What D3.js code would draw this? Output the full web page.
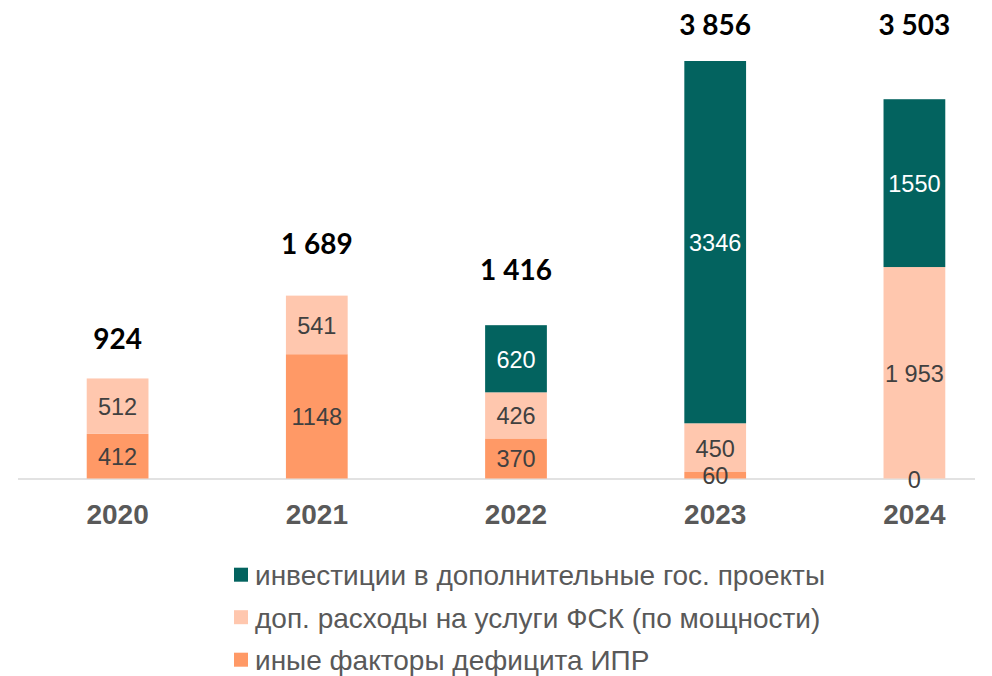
<!DOCTYPE html>
<html><head><meta charset="utf-8">
<script src="https://cdn.jsdelivr.net/npm/d3@7"></script>
<style>body{margin:0;background:#fff}svg{display:block}</style>
</head><body>
<svg id="c" width="992" height="676"></svg>
<script>
const years = ["2020","2021","2022","2023","2024"];
const seriesNames = ["иные факторы дефицита ИПР","доп. расходы на услуги ФСК (по мощности)","инвестиции в дополнительные гос. проекты"];
const otherFactors = [412, 1148, 370, 60, 0];
const fskCosts = [512, 541, 426, 450, 1953];
const govProjects = [0, 0, 620, 3346, 1550];
const totals = [924, 1689, 1416, 3856, 3503];
const totalLabels = ["924","1 689","1 416","3 856","3 503"];
const otherLabels = ["412","1148","370","60","0"];
const fskLabels = ["512","541","426","450","1 953"];
const govLabels = ["","","620","3346","1550"];

// layout (not data)
const colors = ["#FF9966","#FFC7AE","#03635F"];
const labelColors = ["#404040","#404040","#ffffff"];
const totalLabelOffset = [29, 42, 45, 26, 64];

const svg = d3.select("#c");
const x = d3.scaleBand().domain(years).range([18, 1014]).paddingInner(0.69).paddingOuter(0.345);
const y = d3.scaleLinear().domain([0, d3.max(totals)]).range([478.5, 61]);

const rows = years.map((yr,i)=>({year:yr, s0:otherFactors[i], s1:fskCosts[i], s2:govProjects[i]}));
const stack = d3.stack().keys(["s0","s1","s2"])(rows);
const segLabels = [otherLabels, fskLabels, govLabels];

// axis line
svg.append("line").attr("x1",18).attr("x2",975).attr("y1",479).attr("y2",479)
  .attr("stroke","#d9d9d9").attr("stroke-width",1.5);

stack.forEach((layer,k)=>{
  svg.append("g").selectAll("rect").data(layer).join("rect")
    .attr("x",d=>x(d.data.year)).attr("width",x.bandwidth())
    .attr("y",d=>y(d[1])).attr("height",d=>Math.max(0,y(d[0])-y(d[1])))
    .attr("fill",colors[k]);
});
stack.forEach((layer,k)=>{
  svg.append("g").selectAll("text").data(layer).join("text")
    .attr("x",d=>x(d.data.year)+x.bandwidth()/2)
    .attr("y",d=>(y(d[0])+y(d[1]))/2 + 9)
    .attr("text-anchor","middle")
    .attr("font-family","Liberation Sans, Arial, sans-serif")
    .attr("font-size",23.5).attr("fill",labelColors[k])
    .text((d,i)=>segLabels[k][i]);
});

// totals
svg.append("g").selectAll("text").data(totals).join("text")
  .attr("x",(d,i)=>x(years[i])+x.bandwidth()/2)
  .attr("y",(d,i)=>y(d)-totalLabelOffset[i])
  .attr("text-anchor","middle")
  .attr("font-family","Lato, Carlito, Calibri, sans-serif").attr("font-weight","bold")
  .attr("font-size",28).attr("fill","#000")
  .text((d,i)=>totalLabels[i]);

// x axis labels
const xAxis = d3.axisBottom(x).tickSize(0).tickPadding(0);
const gx = svg.append("g").attr("transform","translate(0,479)").call(xAxis);
gx.select(".domain").remove();
gx.selectAll("text").attr("font-family","Liberation Sans, Arial, sans-serif")
  .attr("font-weight","bold").attr("font-size",28).attr("fill","#595959")
  .attr("dy",null).attr("y",45);

// legend
const legendOrder = [2,1,0];
const lg = svg.append("g").selectAll("g").data(legendOrder).join("g")
  .attr("transform",(d,i)=>`translate(234,${574.7+i*42.5})`);
lg.append("rect").attr("x",0).attr("y",-7).attr("width",14).attr("height",14).attr("fill",d=>colors[d]);
lg.append("text").attr("x",21).attr("y",10.3)
  .attr("font-family","Liberation Sans, Arial, sans-serif").attr("font-size",28).attr("fill","#595959")
  .text(d=>seriesNames[d]);
</script>
</body></html>
